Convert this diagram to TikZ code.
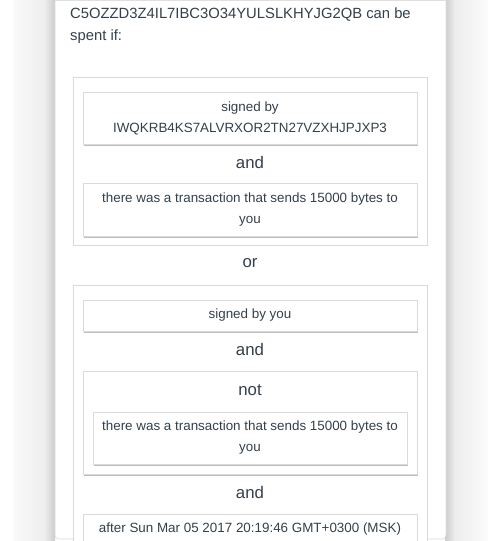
\documentclass[tikz,border=0pt]{standalone}
\usepackage{fontspec}
\setmainfont{Liberation Sans}
\newfontfamily\boxfont{Liberation Sans}
\usetikzlibrary{shadows}
\definecolor{txt}{HTML}{34404C}
\definecolor{bord}{HTML}{DADADA}
\definecolor{shad}{HTML}{BDBDBD}
\tikzset{
  x=1bp, y=-1bp,
  groupbox/.style={draw=bord, line width=0.8bp, fill=white,
    drop shadow={shadow xshift=1.2bp, shadow yshift=-1.4bp, fill=shad, opacity=1}},
  condbox/.style={draw=bord, line width=0.8bp, fill=white,
    drop shadow={shadow xshift=1.4bp, shadow yshift=-2bp, fill=shad, opacity=1}},
  condtext/.style={text=txt, font=\boxfont\fontsize{13.4bp}{21bp}\selectfont, align=center},
  optext/.style={text=txt, font=\boxfont\fontsize{16.8bp}{20bp}\selectfont},
  headtext/.style={text=txt, font=\fontsize{14.8bp}{22bp}\selectfont, anchor=west, inner sep=0pt},
}
\begin{document}
\begin{tikzpicture}
\useasboundingbox (0,0) rectangle (500,541);
\clip (0,0) rectangle (500,541);
% page background and panel shadows
\fill[white] (0,0) rectangle (500,541);
\shade[left color=gray!4, right color=gray!14] (13,0) rectangle (46,541);
\shade[left color=gray!18, right color=gray!40] (46,0) rectangle (55,541);
\shade[left color=gray!40, right color=gray!16] (445,0) rectangle (454,541);
\shade[left color=gray!14, right color=gray!3] (454,0) rectangle (488,541);
% panel
\fill[white, rounded corners=4bp] (55,-5) rectangle (446,539);
\draw[gray!30, line width=0.6bp, rounded corners=4bp] (55,-5) -- (55,539) -- (446,539) -- (446,-5);
\draw[gray!25, line width=0.6bp] (55,0.3) -- (446,0.3);
% header
\node[headtext] (h1) at (70,14.5) {C5OZZD3Z4IL7IBC3O34YULSLKHYJG2QB can be};
\node[headtext] (h2) at (70,36.5) {spent if:};
% first group
\node[groupbox, minimum width=354bp, minimum height=168bp] (g1) at (250,161) {};
\node[condbox, minimum width=334bp, minimum height=52bp, condtext] (c1) at (250,118) {signed by\\IWQKRB4KS7ALVRXOR2TN27VZXHJPJXP3};
\node[optext] (and1) at (250,162) {and};
\node[condbox, minimum width=334bp, minimum height=53bp, condtext] (c2) at (250,209.5) {there was a transaction that sends 15000 bytes to\\you};
\node[optext] (or) at (250,263) {or};
% second group
\node[groupbox, minimum width=354bp, minimum height=280bp] (g2) at (250,425) {};
\node[condbox, minimum width=334bp, minimum height=31bp, condtext] (c3) at (250,315.5) {signed by you};
\node[optext] (and2) at (250,349) {and};
\node[condbox, minimum width=334bp, minimum height=103bp] (nb) at (250,422.5) {};
\node[optext] (not) at (250,390) {not};
\node[condbox, minimum width=314bp, minimum height=52bp, condtext] (c4) at (250,438) {there was a transaction that sends 15000 bytes to\\you};
\node[optext] (and3) at (250,492) {and};
\node[condbox, minimum width=334bp, minimum height=46bp] (c5) at (250,537) {};
\node[condtext] (c5t) at (250,529) {after Sun Mar 05 2017 20:19:46 GMT+0300 (MSK)};
\end{tikzpicture}
\end{document}
